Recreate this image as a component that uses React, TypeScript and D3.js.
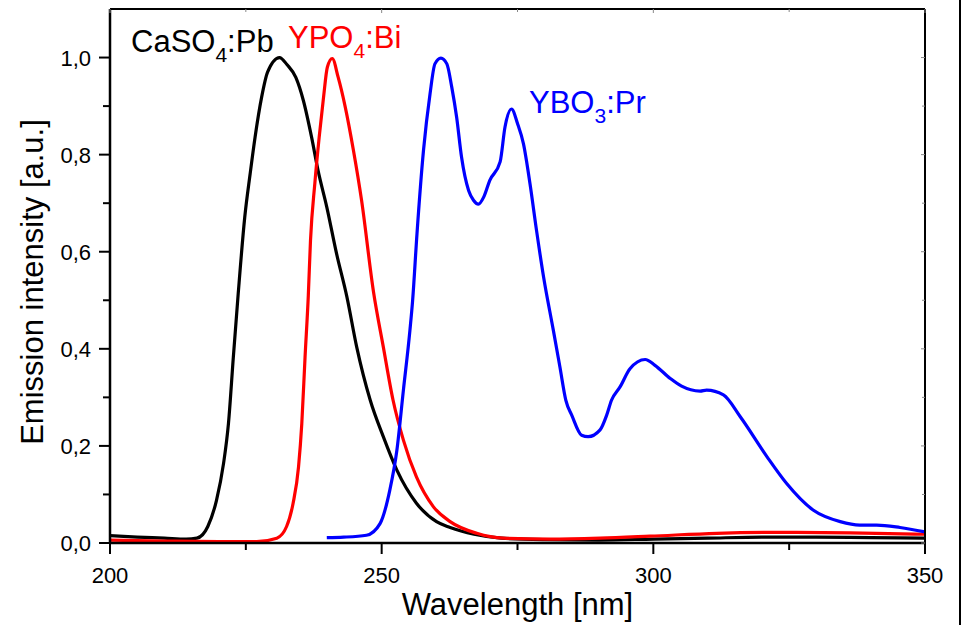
import { useEffect, useRef } from 'react';
import * as d3 from 'd3';

// CaSO4:Pb emission (black)
const caWl = [200, 205, 210, 214, 216, 218, 219.6, 220.9, 221.8, 222.7, 223.6, 224.8, 225.8, 226.7, 227.9, 229.0, 231.2, 232.6, 234.2, 235.6, 237.1, 238.3, 239.9, 241.7, 243.6, 245.4, 247.9, 250.3, 252.8, 256.4, 260.1, 262.6, 267, 272, 280, 290, 300, 310, 320, 330, 340, 350];
const caVal = [0.015, 0.012, 0.010, 0.008, 0.010, 0.034, 0.088, 0.164, 0.246, 0.383, 0.514, 0.671, 0.761, 0.836, 0.918, 0.970, 1.000, 0.985, 0.959, 0.911, 0.836, 0.767, 0.692, 0.596, 0.507, 0.404, 0.294, 0.219, 0.150, 0.082, 0.044, 0.032, 0.018, 0.010, 0.007, 0.006, 0.008, 0.010, 0.012, 0.012, 0.011, 0.010];

// YPO4:Bi emission (red)
const ypWl = [200, 210, 220, 227, 230.7, 232.5, 233.7, 234.7, 235.3, 235.9, 236.5, 236.9, 237.7, 238.5, 239.3, 240.0, 240.9, 242.0, 243.3, 244.8, 246.3, 248.5, 250.3, 252.1, 254.0, 256.4, 259.5, 262.6, 267.5, 272.4, 281, 290.2, 299.4, 311.7, 323.9, 336.2, 350];
const ypVal = [0.006, 0.004, 0.003, 0.003, 0.010, 0.034, 0.082, 0.157, 0.246, 0.383, 0.510, 0.623, 0.741, 0.836, 0.918, 0.980, 0.998, 0.959, 0.898, 0.809, 0.706, 0.517, 0.404, 0.294, 0.212, 0.136, 0.075, 0.044, 0.020, 0.010, 0.008, 0.010, 0.014, 0.020, 0.022, 0.021, 0.018];

// YBO3:Pr emission (blue)
const ybWl = [239.9, 243, 247.2, 249.7, 251.5, 252.8, 254.0, 255.2, 255.7, 256.5, 257.7, 258.9, 259.8, 260.9, 262.0, 262.9, 263.8, 264.7, 266.0, 266.9, 267.8, 268.8, 269.9, 271.8, 272.7, 273.9, 275.0, 276.1, 277.3, 278.5, 279.8, 281.6, 282.8, 283.9, 285.0, 286.8, 288.0, 290.2, 291.4, 292.3, 293.9, 295.7, 298.5, 300.3, 303.1, 305.2, 308.6, 309.8, 312.9, 316.0, 320.9, 324.5, 329.4, 334.4, 338.0, 341.1, 345.4, 350];
const ybVal = [0.011, 0.012, 0.016, 0.040, 0.109, 0.191, 0.315, 0.438, 0.500, 0.637, 0.809, 0.925, 0.987, 0.999, 0.987, 0.939, 0.877, 0.795, 0.726, 0.706, 0.698, 0.713, 0.747, 0.785, 0.857, 0.894, 0.864, 0.822, 0.740, 0.644, 0.548, 0.438, 0.363, 0.294, 0.263, 0.222, 0.219, 0.233, 0.263, 0.294, 0.322, 0.359, 0.378, 0.366, 0.339, 0.323, 0.313, 0.315, 0.305, 0.260, 0.178, 0.123, 0.068, 0.044, 0.037, 0.037, 0.032, 0.023];

const xTicks = [200, 250, 300, 350];
const xMinor = [225, 275, 325];
const yTicks = [0, 0.2, 0.4, 0.6, 0.8, 1.0];
const yMinor = [0.1, 0.3, 0.5, 0.7, 0.9];

const series = [
  { name: 'CaSO', sub: '4', tail: ':Pb', wl: caWl, val: caVal, color: '#000000', lx: 131, ly: 52 },
  { name: 'YPO', sub: '4', tail: ':Bi', wl: ypWl, val: ypVal, color: '#ff0000', lx: 288, ly: 48 },
  { name: 'YBO', sub: '3', tail: ':Pr', wl: ybWl, val: ybVal, color: '#0000ff', lx: 529, ly: 113 },
];

const W = 966;
const H = 625;
const FONT = '"Liberation Sans", Arial, sans-serif';

export default function App() {
  const svgRef = useRef<SVGSVGElement>(null);

  useEffect(() => {
    if (!svgRef.current) return;
    const svg = d3.select(svgRef.current);
    svg.selectAll('*').remove();

    const left = 110, right = 925, top = 9, bottom = 543;
    const x = d3.scaleLinear().domain([200, 350]).range([left, right]);
    const y = d3.scaleLinear().domain([0, 1.1]).range([bottom, top]);

    svg.append('rect').attr('width', W).attr('height', H).attr('fill', '#fff');

    // curves
    const line = d3.line<[number, number]>()
      .x(d => x(d[0]))
      .y(d => y(d[1]))
      .curve(d3.curveMonotoneX);

    series.forEach(s => {
      const pts = s.wl.map((w, i) => [w, s.val[i]] as [number, number]);
      svg.append('path')
        .attr('d', line(pts))
        .attr('fill', 'none')
        .attr('stroke', s.color)
        .attr('stroke-width', 3.2)
        .attr('stroke-linejoin', 'round');

      const t = svg.append('text')
        .attr('x', s.lx)
        .attr('y', s.ly)
        .attr('fill', s.color)
        .style('font-family', FONT)
        .style('font-size', '31px');
      t.append('tspan').text(s.name);
      t.append('tspan').attr('dy', 10).style('font-size', '21px').text(s.sub);
      t.append('tspan').attr('dy', -10).text(s.tail);
    });

    // frame
    const frame = svg.append('g').attr('stroke', '#000').attr('fill', 'none');
    frame.append('line').attr('x1', left).attr('x2', right).attr('y1', top).attr('y2', top).attr('stroke-width', 2);
    frame.append('line').attr('x1', right).attr('x2', right).attr('y1', top).attr('y2', bottom).attr('stroke-width', 2);
    frame.append('line').attr('x1', left).attr('x2', right).attr('y1', bottom).attr('y2', bottom).attr('stroke-width', 2.5);
    frame.append('line').attr('x1', left).attr('x2', left).attr('y1', top).attr('y2', bottom + 1).attr('stroke-width', 2.5);

    // ticks: outward on bottom/left, faint inward on top/right
    xTicks.forEach(v => {
      frame.append('line').attr('x1', x(v)).attr('x2', x(v)).attr('y1', bottom).attr('y2', bottom + 11).attr('stroke-width', 2);
      frame.append('line').attr('x1', x(v)).attr('x2', x(v)).attr('y1', top).attr('y2', top + 4).attr('stroke-width', 1).attr('stroke', '#888');
    });
    xMinor.forEach(v => {
      frame.append('line').attr('x1', x(v)).attr('x2', x(v)).attr('y1', bottom).attr('y2', bottom + 7).attr('stroke-width', 2);
      frame.append('line').attr('x1', x(v)).attr('x2', x(v)).attr('y1', top).attr('y2', top + 3).attr('stroke-width', 1).attr('stroke', '#888');
    });
    yTicks.forEach(v => {
      frame.append('line').attr('x1', left - 11).attr('x2', left).attr('y1', y(v)).attr('y2', y(v)).attr('stroke-width', 2);
      frame.append('line').attr('x1', right - 4).attr('x2', right).attr('y1', y(v)).attr('y2', y(v)).attr('stroke-width', 1).attr('stroke', '#888');
    });
    yMinor.forEach(v => {
      frame.append('line').attr('x1', left - 7).attr('x2', left).attr('y1', y(v)).attr('y2', y(v)).attr('stroke-width', 2);
      frame.append('line').attr('x1', right - 3).attr('x2', right).attr('y1', y(v)).attr('y2', y(v)).attr('stroke-width', 1).attr('stroke', '#888');
    });

    const fmt = (v: number) => v.toFixed(1).replace('.', ',');

    svg.selectAll('.xl').data(xTicks).enter().append('text')
      .attr('x', d => x(d)).attr('y', 583)
      .attr('text-anchor', 'middle')
      .style('font-family', FONT).style('font-size', '22px')
      .text(d => d);

    svg.selectAll('.yl').data(yTicks).enter().append('text')
      .attr('x', 91).attr('y', d => y(d) + 8)
      .attr('text-anchor', 'end')
      .style('font-family', FONT).style('font-size', '22px')
      .text(d => fmt(d));

    svg.append('text')
      .attr('x', (left + right) / 2).attr('y', 615)
      .attr('text-anchor', 'middle')
      .style('font-family', FONT).style('font-size', '31px')
      .text('Wavelength [nm]');

    svg.append('text')
      .attr('transform', `translate(43,282) rotate(-90)`)
      .attr('text-anchor', 'middle')
      .style('font-family', FONT).style('font-size', '31px')
      .text('Emission intensity [a.u.]');

    // outer border line at far right
    svg.append('line').attr('x1', 960).attr('x2', 960).attr('y1', 0).attr('y2', H)
      .attr('stroke', '#000').attr('stroke-width', 2);
  }, []);

  return (
    <svg ref={svgRef} width={W} height={H} style={{ position: 'absolute', left: 0, top: 0 }}></svg>
  );
}
